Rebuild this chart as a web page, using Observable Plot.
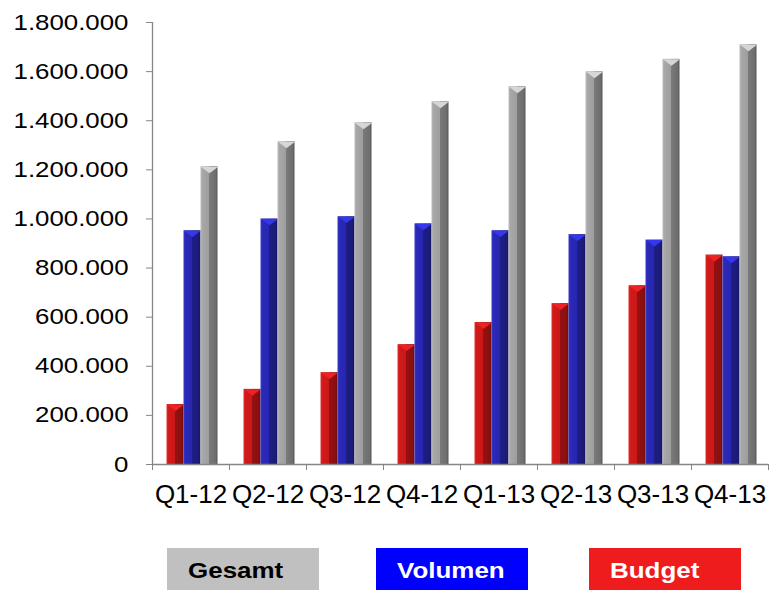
<!DOCTYPE html>
<html><head><meta charset="utf-8">
<script src="https://cdn.jsdelivr.net/npm/d3@7"></script>
<script src="https://cdn.jsdelivr.net/npm/@observablehq/plot@0.6"></script>
<style>
html,body{margin:0;padding:0;background:#fff;overflow:hidden;}
#chart svg{display:block;}
</style></head><body><div id="chart"></div>
<script>
// ---- data ----
const categories = ["Q1-12","Q2-12","Q3-12","Q4-12","Q1-13","Q2-13","Q3-13","Q4-13"];
const budget  = [244000, 306000, 374000, 488000, 578000, 655000, 728000, 853000];
const volumen = [952000, 1000000, 1009000, 980000, 952000, 936000, 914000, 846000];
const gesamt  = [1212000, 1314000, 1391000, 1477000, 1538000, 1599000, 1650000, 1709000];
const yTicks  = [0, 200000, 400000, 600000, 800000, 1000000, 1200000, 1400000, 1600000, 1800000];
const legendNames = ["Gesamt", "Volumen", "Budget"];

const rows = vals => categories.map((q, i) => ({q, v: vals[i]}));
const fmt = d3.formatLocale({decimal: ",", thousands: ".", grouping: [3], currency: ["", "€"]}).format(",");

const capSymbol = {
  draw(ctx, size) {
    const r = Math.sqrt(size / Math.PI);
    ctx.moveTo(-r, 0); ctx.lineTo(r, 0); ctx.lineTo(0, r * 0.75); ctx.closePath();
  }
};

const half = 38.5;
const series = [
  {vals: budget,  grad: "url(#gRed)",  cap: "#ee2222", dx: -15.5},
  {vals: volumen, grad: "url(#gBlue)", cap: "#3636ee", dx: 1.5},
  {vals: gesamt,  grad: "url(#gGray)", cap: "#d6d6d6", dx: 18.5}
];

const marks = [];
for (const s of series) {
  marks.push(Plot.barY(rows(s.vals), {x: "q", y: "v", fill: s.grad, insetLeft: 30, insetRight: 30, dx: s.dx}));
  marks.push(Plot.dot(rows(s.vals), {x: "q", y: "v", symbol: capSymbol, r: 8.5, fill: s.cap, stroke: "none", dx: s.dx}));
}

const chart = Plot.plot({
  width: 771,
  height: 540,
  marginLeft: 152,
  marginRight: 3,
  marginTop: 22,
  marginBottom: 76,
  style: {fontFamily: "'Liberation Sans', Arial, sans-serif", color: "#000", background: "#fff"},
  x: {domain: categories, padding: 0, round: false, label: null},
  y: {domain: [0, 1800000], label: null},
  marks: [
    ...marks,
    Plot.ruleY([0], {stroke: "#868686", strokeWidth: 1.3}),
    Plot.ruleX([categories[0]], {y1: 0, y2: 1800000, dx: -half, stroke: "#868686", strokeWidth: 1.3}),
    Plot.axisY({ticks: yTicks, tickFormat: fmt, tickSize: 6, tickPadding: 18, fontSize: 22, stroke: "#868686", fill: "#000", label: null}),
    Plot.axisX({tickSize: 0, tickPadding: 20, fontSize: 26, fill: "#000", label: null}),
    Plot.axisX(categories, {tickSize: 6, tickFormat: () => "", dx: -half, stroke: "#868686", label: null}),
    Plot.axisX([categories[categories.length - 1]], {tickSize: 6, tickFormat: () => "", dx: half, stroke: "#868686", label: null})
  ]
});

// gradients for the bevelled bars
const defs = d3.select(chart).insert("defs", ":first-child");
function grad(id, stops) {
  const g = defs.append("linearGradient").attr("id", id).attr("x1", 0).attr("x2", 1).attr("y1", 0).attr("y2", 0);
  for (const [o, c] of stops) g.append("stop").attr("offset", o).attr("stop-color", c);
}
grad("gRed",  [[0, "#e23030"], [0.1, "#d21a1a"], [0.5, "#c91818"], [0.5, "#951111"], [0.88, "#8a0f0f"], [1, "#6e0a0a"]]);
grad("gBlue", [[0, "#3a3ad0"], [0.1, "#2a2ab8"], [0.5, "#2626b0"], [0.5, "#1e1e84"], [0.88, "#1b1b78"], [1, "#121260"]]);
grad("gGray", [[0, "#bdbdbd"], [0.1, "#a8a8a8"], [0.5, "#9e9e9e"], [0.5, "#7a7a7a"], [0.88, "#6e6e6e"], [1, "#555555"]]);

document.getElementById("chart").appendChild(chart);

function stretch(el, factor) {
  const L = el.getComputedTextLength();
  el.setAttribute("textLength", L * factor);
  el.setAttribute("lengthAdjust", "spacingAndGlyphs");
}
d3.select(chart).selectAll('g[aria-label="y-axis tick label"] text').each(function() { stretch(this, 1.175); });

// legend
const legendColors = [["#c0c0c0", "#000"], ["#0000ff", "#fff"], ["#ee1c1c", "#fff"]];
const legendX = [167, 376, 589];
const leg = d3.select("#chart").append("svg").attr("width", 771).attr("height", 50)
  .style("font-family", "'Liberation Sans', Arial, sans-serif");
legendNames.forEach((name, i) => {
  leg.append("rect").attr("x", legendX[i]).attr("y", 8).attr("width", 152).attr("height", 44).attr("fill", legendColors[i][0]);
  const t = leg.append("text").attr("x", legendX[i] + 21).attr("y", 38).attr("font-weight", "bold").attr("font-size", 22)
    .attr("fill", legendColors[i][1]).text(name);
  stretch(t.node(), 1.18);
});
</script></body></html>
